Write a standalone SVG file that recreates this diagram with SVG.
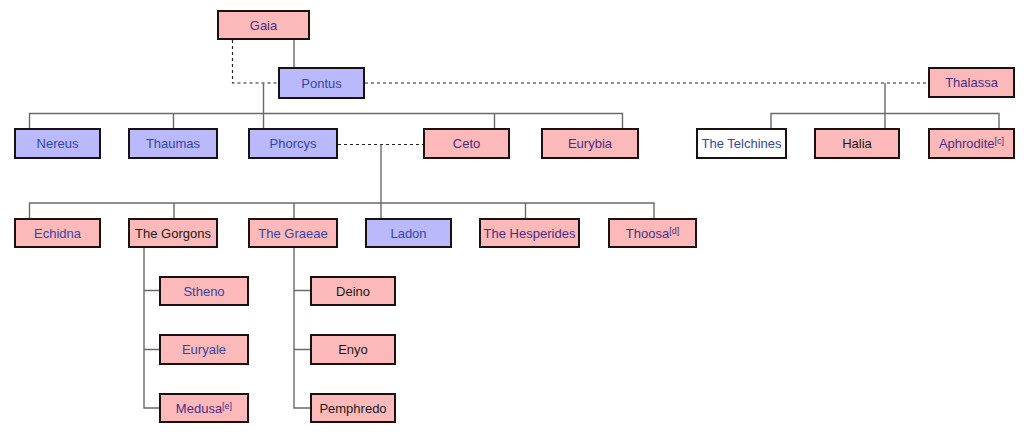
<svg xmlns="http://www.w3.org/2000/svg" width="1024" height="433" viewBox="0 0 1024 433">
<style>
.f rect{stroke:#1a1010;stroke-width:2}
.p rect{fill:#fbb9b9}
.b rect{fill:#b9b9fb}
.w rect{fill:#ffffff}
text{font-family:"Liberation Sans",Arial,sans-serif;font-size:13px;text-anchor:middle}
.lb{fill:#3346a6}
.lv{fill:#4b2d86}
.tk{fill:#1a1a1a}
.sup{font-size:9px}
.ln{stroke:#6a6a6a;stroke-width:1.4;fill:none}
.dl{stroke:#222;stroke-width:1.2;stroke-dasharray:3 3;fill:none}
</style>
<rect width="1024" height="433" fill="#fff"/>
<g id="connectors">
<path class="dl" d="M232.5,40 V83 H279"/>
<path class="ln" d="M294,40 V68"/>
<path class="dl" d="M365,83 H928"/>
<path class="ln" d="M263.5,83 V129"/>
<path class="ln" d="M29.5,129 V113.5 H622.5 V129 M173.5,113.5 V129 M494.5,113.5 V129"/>
<path class="ln" d="M885,83 V129 M771,129 V113.5 H999 V129"/>
<path class="dl" d="M338,144.5 H423"/>
<path class="ln" d="M381,144.5 V219"/>
<path class="ln" d="M29.5,219 V203 H654 V219 M174,203 V219 M294,203 V219 M525.5,203 V219"/>
<path class="ln" d="M144,248 V408 H159 M144,290.5 H159 M144,349.5 H159"/>
<path class="ln" d="M294,248 V408 H310 M294,290.5 H310 M294,349.5 H310"/>
</g>
<g id="gaia" class="f p"><rect x="218" y="11" width="91" height="28"/><text class="lv" x="263.5" y="29.5">Gaia</text></g>
<g id="pontus" class="f b"><rect x="279" y="68" width="85" height="30"/><text class="lb" x="321.5" y="87.5">Pontus</text></g>
<g id="thalassa" class="f p"><rect x="929" y="68" width="85" height="29"/><text class="lv" x="971.5" y="87">Thalassa</text></g>
<g id="nereus" class="f b"><rect x="15" y="129" width="85" height="29"/><text class="lb" x="57.5" y="148">Nereus</text></g>
<g id="thaumas" class="f b"><rect x="129" y="129" width="88" height="29"/><text class="lb" x="173" y="148">Thaumas</text></g>
<g id="phorcys" class="f b"><rect x="249" y="129" width="88" height="29"/><text class="lb" x="293" y="148">Phorcys</text></g>
<g id="ceto" class="f p"><rect x="424" y="129" width="85" height="29"/><text class="lv" x="466.5" y="148">Ceto</text></g>
<g id="eurybia" class="f p"><rect x="542" y="129" width="96" height="29"/><text class="lv" x="590" y="148">Eurybia</text></g>
<g id="telchines" class="f w"><rect x="697" y="129" width="89" height="29"/><text class="lb" x="741.5" y="148">The Telchines</text></g>
<g id="halia" class="f p"><rect x="815" y="129" width="84" height="29"/><text class="tk" x="857" y="148">Halia</text></g>
<g id="aphrodite" class="f p"><rect x="929" y="129" width="85" height="29"/><text class="lv" x="971.5" y="148">Aphrodite<tspan class="sup" dy="-4">[c]</tspan></text></g>
<g id="echidna" class="f p"><rect x="15" y="219" width="85" height="28"/><text class="lb" x="57.5" y="237.5">Echidna</text></g>
<g id="gorgons" class="f p"><rect x="129" y="219" width="88" height="28"/><text class="tk" x="173" y="237.5">The Gorgons</text></g>
<g id="graeae" class="f p"><rect x="249" y="219" width="88" height="28"/><text class="lb" x="293" y="237.5">The Graeae</text></g>
<g id="ladon" class="f b"><rect x="366" y="219" width="85" height="28"/><text class="lb" x="408.5" y="237.5">Ladon</text></g>
<g id="hesperides" class="f p"><rect x="480" y="219" width="99" height="28"/><text class="lv" x="529.5" y="237.5">The Hesperides</text></g>
<g id="thoosa" class="f p"><rect x="609" y="219" width="87" height="28"/><text class="lv" x="652.5" y="237.5">Thoosa<tspan class="sup" dy="-4">[d]</tspan></text></g>
<g id="stheno" class="f p"><rect x="160" y="277" width="88" height="28"/><text class="lb" x="204" y="295.5">Stheno</text></g>
<g id="euryale" class="f p"><rect x="160" y="335" width="88" height="29"/><text class="lb" x="204" y="354">Euryale</text></g>
<g id="medusa" class="f p"><rect x="160" y="394" width="88" height="28"/><text class="lv" x="204" y="412.5">Medusa<tspan class="sup" dy="-4">[e]</tspan></text></g>
<g id="deino" class="f p"><rect x="311" y="277" width="84" height="28"/><text class="tk" x="353" y="295.5">Deino</text></g>
<g id="enyo" class="f p"><rect x="311" y="335" width="84" height="29"/><text class="tk" x="353" y="354">Enyo</text></g>
<g id="pemphredo" class="f p"><rect x="311" y="394" width="84" height="28"/><text class="tk" x="353" y="412.5">Pemphredo</text></g>
</svg>
